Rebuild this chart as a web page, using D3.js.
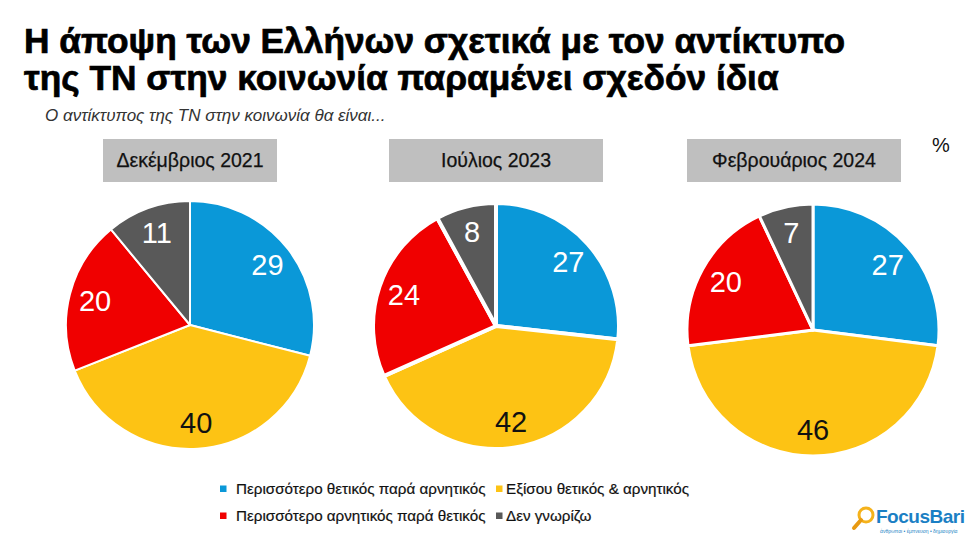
<!DOCTYPE html>
<html>
<head>
<meta charset="utf-8">
<script src="https://cdn.jsdelivr.net/npm/d3@7"></script>
<style>
  body { margin: 0; background: #fff; }
  svg { display: block; font-family: "Liberation Sans", Arial, sans-serif; }
</style>
</head>
<body>
<svg id="chart" width="970" height="543"></svg>
<script>
// Data
const periods = ["Δεκέμβριος 2021", "Ιούλιος 2023", "Φεβρουάριος 2024"];
const categories = [
  "Περισσότερο θετικός παρά αρνητικός",
  "Εξίσου θετικός & αρνητικός",
  "Περισσότερο αρνητικός παρά θετικός",
  "Δεν γνωρίζω"
];
const positive = [29, 27, 27];
const equal = [40, 42, 46];
const negative = [20, 24, 20];
const dontKnow = [11, 8, 7];

const colors = ["#0a98d8", "#fdc314", "#f00000", "#595959"];
const labelColors = ["#fff", "#111", "#fff", "#fff"];

const svg = d3.select("#chart");

// Title
const title = svg.append("g")
  .attr("font-weight", 700).attr("fill", "#000")
  .attr("stroke", "#000").attr("stroke-width", 0.7);
title.append("text").attr("x", 24).attr("y", 53).attr("font-size", 35.3)
  .text("Η άποψη των Ελλήνων σχετικά με τον αντίκτυπο");
title.append("text").attr("x", 24).attr("y", 90).attr("font-size", 35.3)
  .text("της ΤΝ στην κοινωνία παραμένει σχεδόν ίδια");

svg.append("text")
  .attr("x", 45).attr("y", 121)
  .attr("font-size", 17).attr("font-style", "italic").attr("fill", "#333")
  .text("Ο αντίκτυπος της ΤΝ στην κοινωνία θα είναι...");

svg.append("text")
  .attr("x", 932).attr("y", 152)
  .attr("font-size", 20).attr("fill", "#111")
  .text("%");

// Layout of the three pies
const pieLayout = [
  { cx: 190, cy: 325, r: 124, box: [103, 174], gap: 2 },
  { cx: 496, cy: 326, r: 123, box: [389, 214], gap: 4 },
  { cx: 813, cy: 330, r: 126, box: [687, 214], gap: 3 }
];

const pie = d3.pie().sort(null).value(d => d.value);

periods.forEach((period, i) => {
  const L = pieLayout[i];

  // Header box
  svg.append("rect")
    .attr("x", L.box[0]).attr("y", 139)
    .attr("width", L.box[1]).attr("height", 43)
    .attr("fill", "#bfbfbf");
  svg.append("text")
    .attr("x", L.box[0] + L.box[1] / 2).attr("y", 167)
    .attr("text-anchor", "middle")
    .attr("font-size", 19.5).attr("fill", "#111")
    .attr("stroke", "#111").attr("stroke-width", 0.25)
    .text(period);

  const values = [positive[i], equal[i], negative[i], dontKnow[i]]
    .map((v, k) => ({ value: v, k: k }));
  const arcs = pie(values);

  const arc = d3.arc().innerRadius(0).outerRadius(L.r);
  const labelArc = d3.arc().innerRadius(L.r * 0.79).outerRadius(L.r * 0.79);

  const g = svg.append("g")
    .attr("transform", `translate(${L.cx}, ${L.cy})`);

  g.selectAll("path")
    .data(arcs)
    .enter()
    .append("path")
    .attr("d", arc)
    .attr("fill", d => colors[d.data.k])
    .attr("stroke", "#fff")
    .attr("stroke-width", L.gap)
    .attr("stroke-linejoin", "round");

  g.selectAll(".lbl")
    .data(arcs)
    .enter()
    .append("text")
    .attr("class", "lbl")
    .attr("transform", d => `translate(${labelArc.centroid(d)})`)
    .attr("text-anchor", "middle")
    .attr("dy", "0.36em")
    .attr("font-size", 29)
    .attr("fill", d => labelColors[d.data.k])
    .text(d => d.data.value);
});

// Legend
const legendPos = [
  [220, 489], [496, 489], [220, 516], [496, 516]
];
const legend = svg.append("g");
categories.forEach((c, k) => {
  legend.append("rect")
    .attr("x", legendPos[k][0]).attr("y", legendPos[k][1] - 3.5)
    .attr("width", 6.5).attr("height", 6.5)
    .attr("fill", colors[k]);
  legend.append("text")
    .attr("x", legendPos[k][0] + (k % 2 ? 10 : 16)).attr("y", legendPos[k][1])
    .attr("dy", "0.36em")
    .attr("font-size", 15.2).attr("fill", "#111")
    .attr("stroke", "#111").attr("stroke-width", 0.2)
    .text(c);
});

// Logo
const logo = svg.append("g");
logo.append("circle").attr("cx", 866).attr("cy", 515).attr("r", 7)
  .attr("fill", "none").attr("stroke", "#f5b21b").attr("stroke-width", 3);
logo.append("line").attr("x1", 861).attr("y1", 520).attr("x2", 854).attr("y2", 528)
  .attr("stroke", "#e89a12").attr("stroke-width", 4).attr("stroke-linecap", "round");
logo.append("text").attr("x", 876).attr("y", 523)
  .attr("font-size", 19).attr("font-weight", 700).attr("fill", "#1b7fc4")
  .attr("letter-spacing", -0.5)
  .text("FocusBari");
logo.append("text").attr("x", 880).attr("y", 533)
  .attr("font-size", 5).attr("fill", "#1b7fc4")
  .text("άνθρωποι • έμπνευση • δημιουργία");
</script>
</body>
</html>
